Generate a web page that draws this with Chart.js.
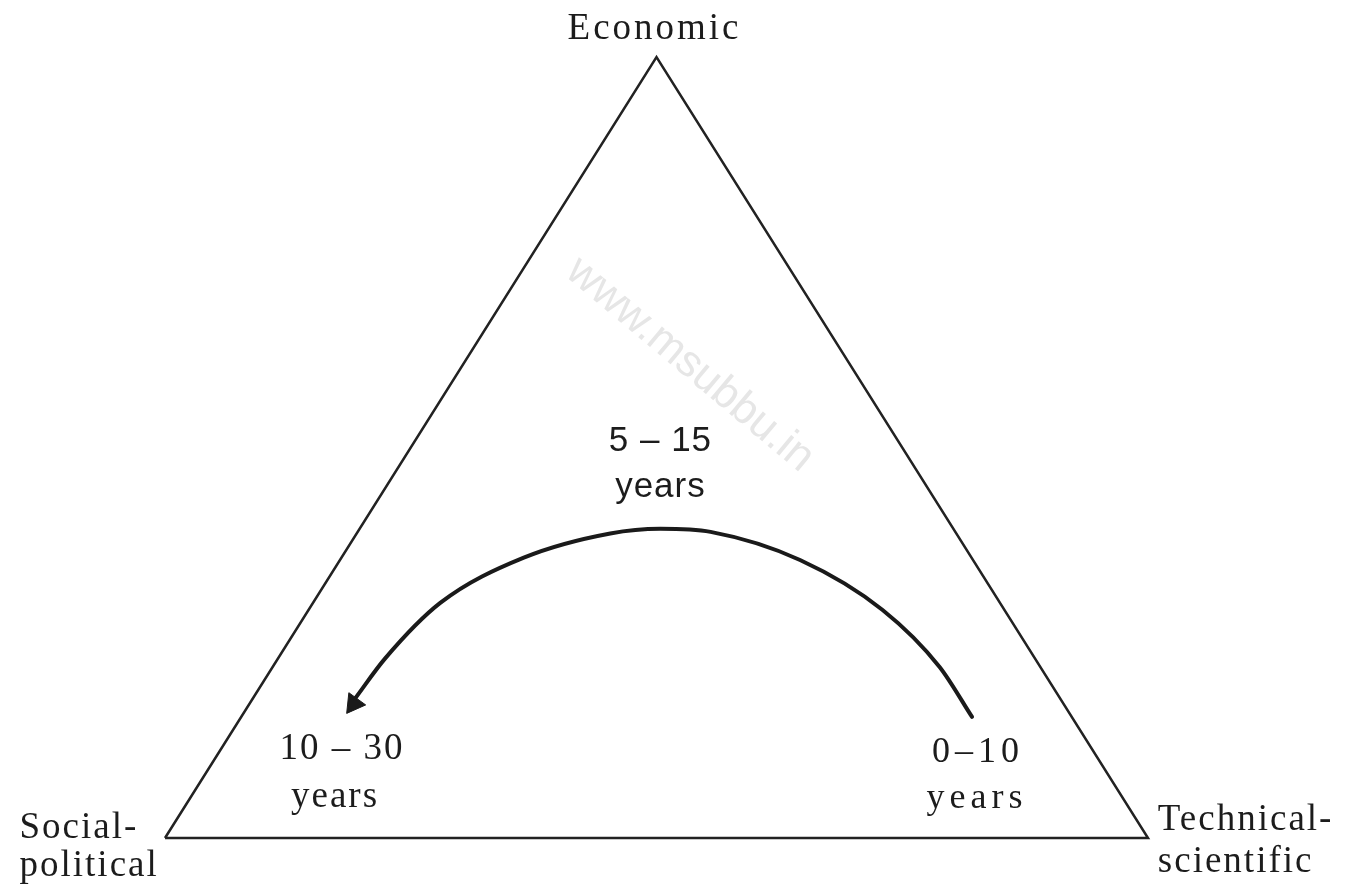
<!DOCTYPE html>
<html>
<head>
<meta charset="utf-8">
<script src="https://cdn.jsdelivr.net/npm/chart.js@4.4.1/dist/chart.umd.min.js"></script>
<style>
  html, body { margin: 0; padding: 0; background: #ffffff; }
  #wrap { width: 1348px; height: 884px; }
</style>
</head>
<body>
<div id="wrap"><canvas id="c" width="1348" height="884"></canvas></div>
<script>
// ---- data (diagram units: base of triangle 0..100 in x, baseline 0 to apex 100 in y) ----
const triangleX = [0, 50, 100, 0];
const triangleY = [0, 100, 0, 0];

// transition arc, from technical-scientific (right) to social-political (left)
const arcX = [82.1, 78.8, 73.0, 64.6, 55.5, 50.4, 45.3, 36.5, 28.0, 22.4, 19.3];
const arcY = [15.5, 21.9, 29.2, 35.6, 39.2, 39.6, 39.0, 35.9, 30.1, 23.0, 17.8];

const arrowX = [19.2];
const arrowY = [17.2];

// text labels
const labelText  = ["Economic", "5 – 15", "years", "10 – 30", "years", "0–10", "years", "Social-", "political", "Technical-", "scientific"];
const labelX     = [49.8, 50.4, 50.4, 18.0, 17.3, 82.7, 82.6, -14.8, -14.8, 101.0, 101.0];
const labelY     = [103.6, 50.8, 44.9, 11.3, 5.2, 11.0, 5.1, 1.3, -3.6, 2.3, -3.1];
const labelAlign = ["center", "center", "center", "center", "center", "center", "center", "left", "left", "left", "left"];
const labelKind  = ["serif", "sans", "sans", "serif", "serif", "mono", "mono", "serif", "serif", "serif", "serif"];

const watermarkText = "www.msubbu.in";
const watermarkX = [53.4];
const watermarkY = [60.6];

// ---- build ----
const toPts = (xs, ys) => xs.map((x, i) => ({ x: x, y: ys[i] }));

const fontFor = {
  serif: { font: '37px "Liberation Serif", "DejaVu Serif", serif', spacing: '2px' },
  sans:  { font: '35px "Liberation Sans", "DejaVu Sans", sans-serif', spacing: '1px' },
  mono:  { font: '36px "Liberation Serif", "DejaVu Serif", serif', spacing: '5px' }
};

const labelsPlugin = {
  id: 'diagramLabels',
  beforeDatasetsDraw(chart) {
    const ctx = chart.ctx;
    const sx = chart.scales.x, sy = chart.scales.y;
    ctx.save();
    ctx.translate(sx.getPixelForValue(watermarkX[0]), sy.getPixelForValue(watermarkY[0]));
    ctx.rotate(40 * Math.PI / 180);
    ctx.font = '44px "Liberation Sans", Arial, sans-serif';
    ctx.fillStyle = '#e6e6e6';
    ctx.textAlign = 'center';
    ctx.textBaseline = 'middle';
    ctx.fillText(watermarkText, 0, 0);
    ctx.restore();
  },
  afterDatasetsDraw(chart) {
    const ctx = chart.ctx;
    const sx = chart.scales.x, sy = chart.scales.y;
    ctx.save();
    ctx.fillStyle = '#1c1c1c';
    ctx.textBaseline = 'middle';
    labelText.forEach((t, i) => {
      const f = fontFor[labelKind[i]];
      ctx.font = f.font;
      ctx.letterSpacing = (t === 'Economic') ? '3px' : f.spacing;
      ctx.textAlign = labelAlign[i];
      ctx.fillText(t, sx.getPixelForValue(labelX[i]), sy.getPixelForValue(labelY[i]));
    });
    ctx.restore();
  }
};

new Chart(document.getElementById('c'), {
  type: 'scatter',
  data: {
    datasets: [
      {
        label: 'triangle',
        data: toPts(triangleX, triangleY),
        showLine: true,
        borderColor: '#222222',
        borderWidth: 2.5,
        pointRadius: 0,
        tension: 0,
        clip: false,
        borderJoinStyle: 'miter'
      },
      {
        label: 'arc',
        data: toPts(arcX, arcY),
        showLine: true,
        borderColor: '#1a1a1a',
        borderWidth: 4,
        pointRadius: 0,
        cubicInterpolationMode: 'monotone',
        clip: false,
        borderCapStyle: 'round'
      },
      {
        label: 'arrow',
        data: toPts(arrowX, arrowY),
        showLine: false,
        pointStyle: 'triangle',
        pointRadius: 12,
        rotation: 216,
        backgroundColor: '#1a1a1a',
        borderColor: '#1a1a1a',
        borderWidth: 1,
        clip: false
      }
    ]
  },
  options: {
    responsive: false,
    animation: false,
    devicePixelRatio: 1,
    layout: { padding: { left: 165, right: 200, top: 57, bottom: 46 } },
    plugins: { legend: { display: false }, tooltip: { enabled: false } },
    events: [],
    scales: {
      x: { type: 'linear', min: 0, max: 100, display: false },
      y: { type: 'linear', min: 0, max: 100, display: false }
    }
  },
  plugins: [labelsPlugin]
});
</script>
</body>
</html>
